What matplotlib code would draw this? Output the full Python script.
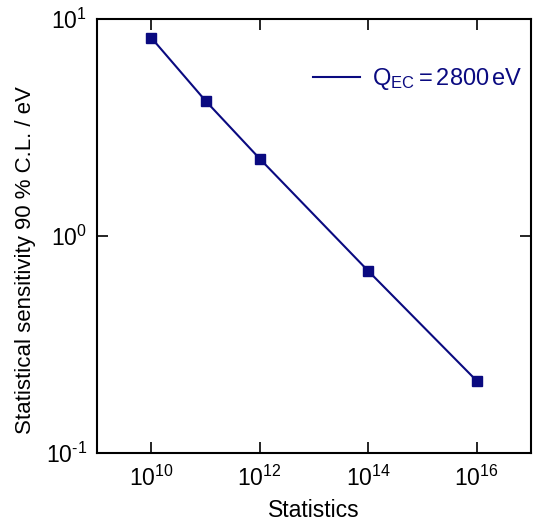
import matplotlib
matplotlib.use("Agg")
import matplotlib.pyplot as plt
from matplotlib.ticker import NullLocator

plt.rcParams['font.family'] = ['Liberation Sans', 'DejaVu Sans']
plt.rcParams['mathtext.fontset'] = 'custom'
plt.rcParams['mathtext.rm'] = 'Liberation Sans'
plt.rcParams['mathtext.it'] = 'Liberation Sans:italic'
plt.rcParams['mathtext.default'] = 'regular'
plt.rcParams['axes.unicode_minus'] = False

statistics = [1e10, 1e11, 1e12, 1e14, 1e16]
sensitivity = [8.2, 4.2, 2.27, 0.69, 0.215]
x_ticks = [1e10, 1e12, 1e14, 1e16]
x_tick_labels = [r'$10^{10}$', r'$10^{12}$', r'$10^{14}$', r'$10^{16}$']
y_ticks = [0.1, 1, 10]
y_tick_labels = [r'$10^{\text{-}1}$', r'$10^{0}$', r'$10^{1}$']
legend_label = r'$Q_{EC}=2800\,$eV'
color = '#0a0a80'

fig = plt.figure(figsize=(5.34, 5.28), dpi=100)
ax = fig.add_axes([97/534, 1-453/528, (531-97)/534, (453-19)/528])

ax.plot(statistics, sensitivity, '-s', color=color, lw=1.5, ms=7,
        mfc=color, mec=color, label=legend_label)

ax.set_xscale('log')
ax.set_yscale('log')
ax.set_xlim(1e9, 1e17)
ax.set_ylim(0.1, 10)
ax.set_xticks(x_ticks)
ax.set_xticklabels(x_tick_labels)
ax.set_yticks(y_ticks)
ax.set_yticklabels(y_tick_labels)
ax.xaxis.set_minor_locator(NullLocator())
ax.yaxis.set_minor_locator(NullLocator())

ax.tick_params(which='major', direction='in', top=True, right=True,
               length=8, width=1.2, labelsize=16.5)
ax.tick_params(axis='x', pad=9)
ax.tick_params(axis='y', pad=7)
for s in ax.spines.values():
    s.set_linewidth(1.5)

ax.set_xlabel('Statistics', fontsize=16.5, labelpad=6)
ax.set_ylabel('Statistical sensitivity 90 % C.L. / eV', fontsize=16)
ax.yaxis.set_label_coords(-0.14, 0.445)

leg = ax.legend(loc='upper right', frameon=False, fontsize=17,
                handlelength=2.0, handletextpad=0.5,
                bbox_to_anchor=(1.03, 0.94))
for t in leg.get_texts():
    t.set_color(color)
for h in leg.legend_handles:
    h.set_marker('')

fig.savefig('out.png', dpi=100)
